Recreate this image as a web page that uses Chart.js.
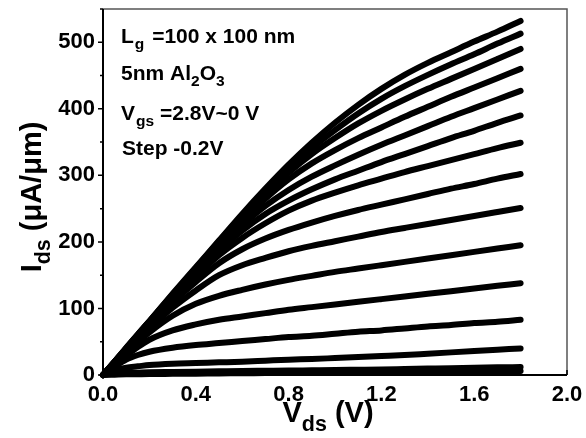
<!DOCTYPE html>
<html>
<head>
<meta charset="utf-8">
<script src="https://cdn.jsdelivr.net/npm/chart.js@4.4.1/dist/chart.umd.min.js"></script>
<style>
  html, body { margin: 0; padding: 0; background: #fff; }
  #wrap { width: 586px; height: 438px; }
</style>
</head>
<body>
<div id="wrap"><canvas id="ivChart" width="586" height="438"></canvas></div>
<script>
// Output characteristics Ids-Vds, Vgs = 2.8 V down to 0 V, step -0.2 V
const vds = [0, 0.05, 0.1, 0.15, 0.2, 0.3, 0.4, 0.5, 0.6, 0.7, 0.8, 0.9, 1.0, 1.1, 1.2, 1.3, 1.4, 1.5, 1.6, 1.7, 1.8];

const ids28 = [0, 20, 41, 61, 81, 122, 162, 202, 242, 280, 316, 349, 379, 406, 430, 451, 469, 485, 501, 516, 532];
const ids26 = [0, 20, 40, 61, 81, 121, 161, 201, 240, 277, 311, 341, 368, 393, 415, 434, 451, 467, 482, 498, 513];
const ids24 = [0, 20, 40, 60, 80, 120, 160, 199, 237, 272, 304, 332, 356, 378, 397, 414, 430, 445, 460, 475, 490];
const ids22 = [0, 20, 40, 60, 80, 119, 158, 196, 232, 265, 294, 318, 338, 356, 372, 388, 403, 418, 432, 446, 460];
const ids20 = [0, 20, 40, 59, 79, 118, 156, 192, 225, 254, 278, 298, 315, 331, 346, 360, 374, 388, 401, 414, 427];
const ids18 = [0, 19, 39, 58, 78, 116, 153, 187, 217, 242, 262, 279, 294, 307, 320, 332, 344, 356, 367, 379, 390];
const ids16 = [0, 19, 38, 57, 76, 113, 148, 180, 206, 228, 247, 262, 274, 285, 295, 305, 314, 323, 332, 341, 349];
const ids14 = [0, 19, 37, 56, 74, 109, 140, 168, 189, 205, 218, 229, 239, 248, 256, 264, 272, 280, 287, 295, 302];
const ids12 = [0, 18, 36, 53, 70, 101, 127, 150, 165, 176, 186, 194, 201, 208, 215, 221, 227, 233, 239, 245, 251];
const ids10 = [0, 17, 33, 49, 64, 89, 107, 119, 128, 136, 143, 149, 155, 160, 165, 170, 175, 180, 185, 190, 195];
const ids08 = [0, 15, 29, 42, 53, 67, 76, 83, 88, 93, 98, 102, 106, 110, 114, 118, 122, 126, 130, 134, 138];
const ids06 = [0, 12, 23, 30, 35, 41, 45, 48, 51, 54, 57, 59, 62, 65, 67, 70, 73, 75, 78, 80, 83];
const ids04 = [0, 7, 11, 13, 15, 17, 18, 19, 20, 21.5, 23, 24, 25.5, 27, 28.5, 30, 32, 34, 36, 38, 40];
const ids02 = [0, 2, 3, 3.5, 4, 4.5, 5, 5.5, 6, 6.3, 6.6, 7, 7.4, 7.9, 8.4, 9, 9.6, 10.2, 10.9, 11.5, 12];
const ids00 = [0, 0.5, 1, 1.2, 1.4, 1.7, 2, 2.3, 2.6, 2.9, 3.2, 3.5, 3.8, 4.1, 4.4, 4.7, 5, 5.3, 5.6, 5.8, 6];

const vgsLabels = ["2.8", "2.6", "2.4", "2.2", "2.0", "1.8", "1.6", "1.4", "1.2", "1.0", "0.8", "0.6", "0.4", "0.2", "0.0"];
const curves = [ids28, ids26, ids24, ids22, ids20, ids18, ids16, ids14, ids12, ids10, ids08, ids06, ids04, ids02, ids00];

const xTicks = [0, 0.4, 0.8, 1.2, 1.6, 2.0];
const yTicks = [0, 100, 200, 300, 400, 500];

const FONT = "'Liberation Sans', Arial, sans-serif";

// draws text pieces; pieces marked sub are smaller and lowered
function richText(ctx, parts, x, y, size, align) {
  let total = 0;
  parts.forEach(p => {
    ctx.font = "bold " + (p.sub ? size * 0.74 : size) + "px " + FONT;
    p.w = ctx.measureText(p.t).width + (p.gap || 0);
    total += p.w;
  });
  let cx = align === "center" ? x - total / 2 : x;
  parts.forEach(p => {
    ctx.font = "bold " + (p.sub ? size * 0.74 : size) + "px " + FONT;
    ctx.fillText(p.t, cx + (p.pre || 0), p.sub ? y + size * 0.3 : y);
    cx += p.w;
  });
}

// frame, ticks, axis titles and the condition notes
const decorations = {
  id: "decorations",
  afterDatasetsDraw(chart) {
    const ctx = chart.ctx;
    const a = chart.chartArea;
    const xs = chart.scales.x, ys = chart.scales.y;
    ctx.save();
    ctx.fillStyle = "#000";
    ctx.textBaseline = "alphabetic";
    ctx.textAlign = "left";

    // top and right frame
    ctx.strokeStyle = "#555";
    ctx.lineWidth = 1.5;
    ctx.beginPath();
    ctx.moveTo(a.left, a.top); ctx.lineTo(a.right, a.top); ctx.lineTo(a.right, a.bottom);
    ctx.stroke();

    // left and bottom axes
    ctx.strokeStyle = "#000";
    ctx.lineWidth = 2;
    ctx.beginPath();
    ctx.moveTo(a.left, a.top); ctx.lineTo(a.left, a.bottom); ctx.lineTo(a.right, a.bottom);
    ctx.stroke();

    // y ticks, outside
    ctx.lineWidth = 1.5;
    ctx.beginPath();
    for (let v = 0; v <= 550; v += 50) {
      const py = ys.getPixelForValue(v);
      const len = v % 100 === 0 ? 5 : 3;
      ctx.moveTo(a.left - len, py); ctx.lineTo(a.left, py);
    }
    // x ticks, inside
    for (let i = 0; i <= 10; i++) {
      const px = xs.getPixelForValue(i * 0.2);
      const len = i % 2 === 0 ? 5 : 3;
      ctx.moveTo(px, a.bottom); ctx.lineTo(px, a.bottom - len);
    }
    ctx.stroke();

    // x title
    richText(ctx, [{t: "V"}, {t: "ds", sub: true}, {t: " (V)"}], 328, 422, 29, "center");

    // y title
    ctx.save();
    ctx.translate(41, 197);
    ctx.rotate(-Math.PI / 2);
    richText(ctx, [{t: "I"}, {t: "ds", sub: true}, {t: " (\u03bcA/\u03bcm)"}], 0, 0, 29, "center");
    ctx.restore();

    // measurement conditions
    const fs = 21;
    richText(ctx, [{t: "L", gap: 1}, {t: "g", sub: true}, {t: " =100 x 100 nm", pre: 2}], 121, 43, fs);
    richText(ctx, [{t: "5nm Al"}, {t: "2", sub: true}, {t: "O"}, {t: "3", sub: true}], 121, 80, fs);
    richText(ctx, [{t: "V", gap: 1}, {t: "gs", sub: true}, {t: " =2.8V~0 V"}], 121, 120, fs);
    richText(ctx, [{t: "Step -0.2V"}], 122, 155, fs);
    ctx.restore();
  }
};

const datasets = curves.map((ys, i) => ({
  label: "Vgs = " + vgsLabels[i] + " V",
  data: vds.map((v, j) => ({x: v, y: ys[j]})),
  borderColor: "#000",
  borderWidth: 6,
  borderCapStyle: "round",
  borderJoinStyle: "round",
  pointRadius: 0,
  cubicInterpolationMode: "monotone",
  clip: false
}));

new Chart(document.getElementById("ivChart"), {
  type: "line",
  data: { datasets },
  options: {
    responsive: false,
    animation: false,
    layout: { padding: { top: 9, right: 19, left: 0, bottom: 0 } },
    plugins: { legend: { display: false }, tooltip: { enabled: false } },
    scales: {
      x: {
        type: "linear",
        min: 0, max: 2.0,
        afterFit: s => { s.height = 63; s.paddingLeft = 0; s.paddingRight = 0; },
        afterBuildTicks: s => { s.ticks = xTicks.map(v => ({value: v})); },
        grid: { display: false, drawTicks: false },
        border: { display: false },
        ticks: {
          padding: 7,
          color: "#000",
          font: { family: FONT, size: 22, weight: "bold" },
          callback: v => v.toFixed(1)
        }
      },
      y: {
        type: "linear",
        min: 0, max: 550,
        afterFit: s => { s.width = 103; s.paddingTop = 0; s.paddingBottom = 0; },
        afterBuildTicks: s => { s.ticks = yTicks.map(v => ({value: v})); },
        grid: { display: false, drawTicks: false },
        border: { display: false },
        ticks: {
          padding: 8,
          color: "#000",
          font: { family: FONT, size: 22, weight: "bold" }
        }
      }
    }
  },
  plugins: [decorations]
});
</script>
</body>
</html>
